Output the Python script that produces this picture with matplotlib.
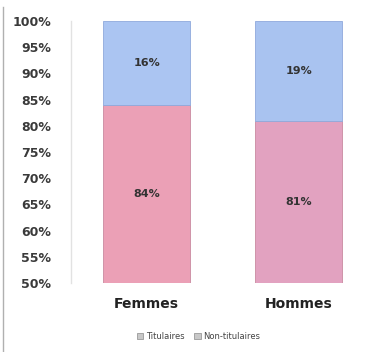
import numpy as np
import matplotlib.pyplot as plt

# Effectifs par sexe et par statut (en %)
categories = ["Femmes", "Hommes"]
titulaires = [84, 81]
non_titulaires = [16, 19]
yticks = [50, 55, 60, 65, 70, 75, 80, 85, 90, 95, 100]

col_tit = ["#eba0b6", "#e2a2c0"]
col_non = ["#abc5f2", "#a9c3f0"]

fig = plt.figure(figsize=(3.82, 3.52), dpi=100)
ax = fig.add_axes([0.185, 0.196, 0.796, 0.744])

x = np.arange(len(categories))
b1 = ax.bar(x, titulaires, width=0.575, color=col_tit, edgecolor="#c98aa0",
            linewidth=0.6, label="Titulaires")
b2 = ax.bar(x, non_titulaires, width=0.575, bottom=titulaires, color=col_non,
            edgecolor="#8fa9dc", linewidth=0.6, label="Non-titulaires")

# étiquettes centrées dans la partie visible des segments
ymin = 50
for i in range(len(categories)):
    ax.text(x[i], (ymin + titulaires[i]) / 2, f"{titulaires[i]}%", ha="center",
            va="center", fontsize=8, fontweight="bold", color="#333333")
    ax.text(x[i], titulaires[i] + non_titulaires[i] / 2, f"{non_titulaires[i]}%",
            ha="center", va="center", fontsize=8, fontweight="bold", color="#333333")

ax.set_ylim(ymin, 100)
ax.set_xlim(-0.5, 1.5)
ax.set_yticks(yticks)
ax.set_yticklabels([f"{v}%" for v in yticks], fontsize=9, fontweight="bold",
                   color="#3a3a3a")
ax.set_xticks(x)
ax.set_xticklabels(categories, fontsize=10, fontweight="bold", color="#222222")
ax.tick_params(axis="y", length=0, pad=14)
ax.tick_params(axis="x", length=0, pad=10)
for s in ["top", "right", "bottom"]:
    ax.spines[s].set_visible(False)
ax.spines["left"].set_color("#e2e2e2")
ax.spines["left"].set_linewidth(1.0)

fig.legend(handles=[b1, b2], loc="lower center", bbox_to_anchor=(0.52, 0.01),
           ncol=2, frameon=False, fontsize=6, handlelength=0.8, handleheight=0.8,
           columnspacing=1.2, handletextpad=0.3, labelcolor="#444444")
leg = fig.legends[0]
for h in leg.legend_handles:
    h.set_facecolor("#c8c8c8")
    h.set_edgecolor("#999999")

# bord gris à gauche
fig.add_artist(plt.Line2D([0.008, 0.008], [0.0, 0.98], color="#b0b0b0",
                          linewidth=1.0, transform=fig.transFigure))

fig.savefig("out.png", dpi=100)
